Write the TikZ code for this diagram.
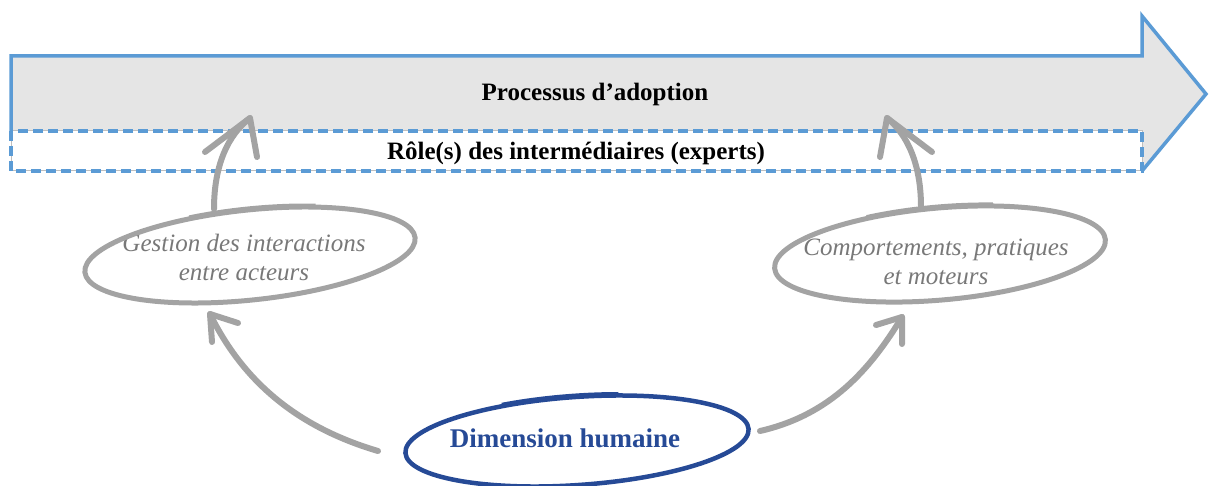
\documentclass[tikz,border=0pt]{standalone}
\usepackage{fontspec}
\setmainfont{Liberation Serif}
\usetikzlibrary{calc}
\definecolor{arrowblue}{RGB}{91,155,213}
\definecolor{bodygray}{RGB}{229,229,229}
\definecolor{sketchgray}{RGB}{163,163,163}
\definecolor{textgray}{RGB}{120,120,120}
\definecolor{dimblue}{RGB}{38,74,150}
\tikzset{
  x=1pt, y=-1pt,
  bandtext/.style={font=\fontsize{25}{29}\selectfont\bfseries, text=black, inner sep=0pt},
  ovaltext/.style={font=\fontsize{25}{29}\selectfont\itshape, text=textgray, align=center, inner sep=0pt},
  dimtext/.style={font=\fontsize{27}{31}\selectfont\bfseries, text=dimblue, inner sep=0pt},
  sketchline/.style={draw=sketchgray, line width=6pt, line cap=round, line join=round},
  ovalline/.style={draw=sketchgray, line width=5pt},
  dimline/.style={draw=dimblue, line width=4.5pt},
}
\begin{document}
\begin{tikzpicture}
\useasboundingbox (0,0) rectangle (1209,486);
% big arrow
\fill[bodygray] (11,56) -- (1142,56) -- (1142,16) -- (1206,94) -- (1142,171) -- (11,171) -- cycle;
\draw[arrowblue, line width=3.5pt, line join=miter] (11,131) -- (11,56) -- (1142,56) -- (1142,16) -- (1206,94) -- (1142,171);
\fill[white] (11,131) rectangle (1142,171);
\draw[sketchgray!70, line width=1pt] (11,131) rectangle (1142,171);
\draw[arrowblue, line width=3.5pt, dash pattern=on 10pt off 5pt] (11,131) rectangle (1142,171);
\node[bandtext] (proc) at (595,94) {Processus d’adoption};
\node[bandtext] (role) at (576,153) {Rôle(s) des intermédiaires (experts)};
% ovals
\node[ovaltext] (gest) at (244,257) {Gestion des interactions\\entre acteurs};
\node[ovaltext] (comp) at (936,262) {Comportements, pratiques\\et moteurs};
\node[dimtext] (dim) at (565,438) {Dimension humaine};
\draw[ovalline, rotate around={6:(250,255)}] (250,255) ellipse [x radius=166, y radius=45];
\draw[ovalline, line width=3pt, rotate around={6:(250,253)}] (250,253) ++(250:166 and 45) arc[start angle=250, end angle=295, x radius=166, y radius=45];
\draw[ovalline, rotate around={5:(940,254)}] (940,254) ellipse [x radius=166, y radius=46];
\draw[ovalline, line width=3pt, rotate around={5:(940,252)}] (940,252) ++(245:166 and 46) arc[start angle=245, end angle=290, x radius=166, y radius=46];
\draw[dimline, rotate around={4:(577,441)}] (577,441) ellipse [x radius=172, y radius=44];
\draw[dimline, line width=3pt, rotate around={4:(577,439)}] (577,439) ++(245:172 and 44) arc[start angle=245, end angle=285, x radius=172, y radius=44];
% arrow end points
\coordinate (g1) at (214,209);
\coordinate (t1) at (250,118);
\coordinate (c1) at (921,207);
\coordinate (t2) at (887,118);
\coordinate (d1) at (378,451);
\coordinate (t3) at (210,314);
\coordinate (d2) at (760,431);
\coordinate (t4) at (902,317);
% connectors
\draw[sketchline] (g1) .. controls (214,165) and (228,135) .. (t1);
\draw[sketchline] (205,152) -- (t1) -- (257,157);
\draw[sketchline] (c1) .. controls (921,165) and (908,135) .. (t2);
\draw[sketchline] (880,157) -- (t2) -- (932,152);
\draw[sketchline] (d1) .. controls (290,425) and (240,375) .. (t3);
\draw[sketchline] (212,342) -- (t3) -- (238,323);
\draw[sketchline] (d2) .. controls (830,415) and (870,370) .. (t4);
\draw[sketchline] (876,325) -- (t4) -- (902,344);
\end{tikzpicture}
\end{document}
